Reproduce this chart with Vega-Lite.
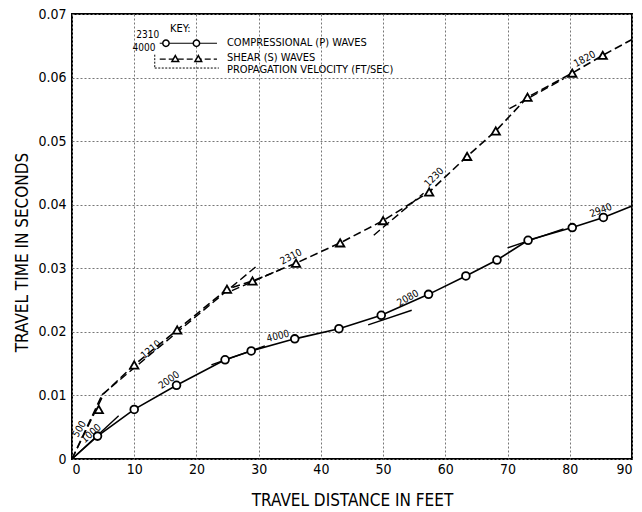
{
  "$schema": "https://vega.github.io/schema/vega-lite/v6.json",
  "width": 560,
  "height": 445,
  "autosize": {"type": "none"},
  "padding": {"left": 72, "top": 14, "right": 10, "bottom": 53},
  "background": "white",
  "config": {
    "font": "'DejaVu Sans Condensed', Roboto, sans-serif",
    "view": {"stroke": "black", "strokeWidth": 2},
    "axis": {
      "grid": true, "gridColor": "#777", "gridDash": [2, 2], "gridWidth": 1,
      "domain": false, "ticks": false,
      "labelFont": "'DejaVu Sans Condensed', Roboto, sans-serif", "labelFontSize": 14, "labelColor": "black",
      "titleFont": "'DejaVu Sans Condensed', Roboto, sans-serif", "titleFontSize": 17, "titleFontWeight": "normal", "titleColor": "black"
    },
    "text": {"font": "'DejaVu Sans Condensed', Roboto, sans-serif", "color": "black"}
  },
  "datasets": {
    "curve": [
      {"series": "P", "x": 0, "t": 0}, {"series": "P", "x": 4.1, "t": 0.0036}, {"series": "P", "x": 10, "t": 0.0078},
      {"series": "P", "x": 16.8, "t": 0.0116}, {"series": "P", "x": 24.6, "t": 0.0156}, {"series": "P", "x": 28.8, "t": 0.0170},
      {"series": "P", "x": 35.8, "t": 0.0189}, {"series": "P", "x": 42.9, "t": 0.0205}, {"series": "P", "x": 49.7, "t": 0.0226},
      {"series": "P", "x": 57.3, "t": 0.0259}, {"series": "P", "x": 63.3, "t": 0.0288}, {"series": "P", "x": 68.3, "t": 0.0313},
      {"series": "P", "x": 73.3, "t": 0.0344}, {"series": "P", "x": 80.4, "t": 0.0364}, {"series": "P", "x": 85.4, "t": 0.0380},
      {"series": "P", "x": 90, "t": 0.0398},
      {"series": "S", "x": 0, "t": 0}, {"series": "S", "x": 4.8, "t": 0.0100}, {"series": "S", "x": 10, "t": 0.0148},
      {"series": "S", "x": 16.9, "t": 0.0203}, {"series": "S", "x": 24.9, "t": 0.0267}, {"series": "S", "x": 29.0, "t": 0.0280},
      {"series": "S", "x": 36.0, "t": 0.0308}, {"series": "S", "x": 43.1, "t": 0.0340}, {"series": "S", "x": 50.0, "t": 0.0375},
      {"series": "S", "x": 57.4, "t": 0.0420}, {"series": "S", "x": 63.5, "t": 0.0476}, {"series": "S", "x": 68.1, "t": 0.0516},
      {"series": "S", "x": 73.2, "t": 0.0569}, {"series": "S", "x": 80.4, "t": 0.0607}, {"series": "S", "x": 85.3, "t": 0.0635},
      {"series": "S", "x": 90, "t": 0.0660}
    ],
    "obs": [
      {"series": "P", "x": 4.1, "t": 0.0036}, {"series": "P", "x": 10, "t": 0.0078}, {"series": "P", "x": 16.8, "t": 0.0116},
      {"series": "P", "x": 24.6, "t": 0.0156}, {"series": "P", "x": 28.8, "t": 0.0170}, {"series": "P", "x": 35.8, "t": 0.0189},
      {"series": "P", "x": 42.9, "t": 0.0205}, {"series": "P", "x": 49.7, "t": 0.0226}, {"series": "P", "x": 57.3, "t": 0.0259},
      {"series": "P", "x": 63.3, "t": 0.0288}, {"series": "P", "x": 68.3, "t": 0.0313}, {"series": "P", "x": 73.3, "t": 0.0344},
      {"series": "P", "x": 80.4, "t": 0.0364}, {"series": "P", "x": 85.4, "t": 0.0380},
      {"series": "S", "x": 4.3, "t": 0.0078}, {"series": "S", "x": 10, "t": 0.0148}, {"series": "S", "x": 16.9, "t": 0.0203},
      {"series": "S", "x": 24.9, "t": 0.0267}, {"series": "S", "x": 29.0, "t": 0.0280}, {"series": "S", "x": 36.0, "t": 0.0308},
      {"series": "S", "x": 43.1, "t": 0.0340}, {"series": "S", "x": 50.0, "t": 0.0375}, {"series": "S", "x": 57.4, "t": 0.0420},
      {"series": "S", "x": 63.5, "t": 0.0476}, {"series": "S", "x": 68.1, "t": 0.0516}, {"series": "S", "x": 73.2, "t": 0.0569},
      {"series": "S", "x": 80.4, "t": 0.0607}, {"series": "S", "x": 85.3, "t": 0.0635}
    ],
    "tangents": [
      {"series": "S", "v": "500", "x": 0, "t": 0, "x2": 5, "t2": 0.0100},
      {"series": "P", "v": "1000", "x": 0, "t": 0, "x2": 7.5, "t2": 0.0068},
      {"series": "S", "v": "1210", "x": 4.8, "t": 0.0101, "x2": 29.5, "t2": 0.0302},
      {"series": "S", "v": "2310", "x": 25.7, "t": 0.0265, "x2": 33.5, "t2": 0.0298},
      {"series": "P", "v": "4000", "x": 22.4, "t": 0.0148, "x2": 31, "t2": 0.0178},
      {"series": "P", "v": "2080", "x": 47.6, "t": 0.0211, "x2": 54.6, "t2": 0.0234},
      {"series": "S", "v": "1230", "x": 48.5, "t": 0.0352, "x2": 56.5, "t2": 0.0418},
      {"series": "S", "v": "1820", "x": 70.3, "t": 0.0551, "x2": 79, "t2": 0.0598},
      {"series": "P", "v": "2940", "x": 70, "t": 0.0332, "x2": 79, "t2": 0.0362}
    ],
    "labels": [
      {"v": "500", "x": 1.2, "t": 0.0047},
      {"v": "1000", "x": 3.1, "t": 0.0040},
      {"v": "2000", "x": 15.6, "t": 0.0124},
      {"v": "1210", "x": 12.7, "t": 0.0172},
      {"v": "2310", "x": 35.2, "t": 0.0318},
      {"v": "4000", "x": 33.1, "t": 0.0193},
      {"v": "2080", "x": 54.0, "t": 0.0253},
      {"v": "1230", "x": 58.2, "t": 0.0443},
      {"v": "1820", "x": 82.4, "t": 0.0629},
      {"v": "2940", "x": 85.0, "t": 0.0391}
    ],
    "keyLines": [
      {"series": "P", "x": 14.1, "t": 0.0654, "x2": 23.3, "t2": 0.0654},
      {"series": "S", "x": 14.1, "t": 0.0629, "x2": 23.3, "t2": 0.0629},
      {"series": "B", "x": 13.3, "t": 0.0636, "x2": 13.3, "t2": 0.0615},
      {"series": "B", "x": 13.3, "t": 0.0615, "x2": 23.6, "t2": 0.0615}
    ],
    "keyMarks": [
      {"series": "P", "x": 15.1, "t": 0.0654}, {"series": "P", "x": 20.0, "t": 0.0654},
      {"series": "S", "x": 16.6, "t": 0.0630}, {"series": "S", "x": 20.3, "t": 0.0630}
    ],
    "keyText": [
      {"label": "KEY:", "x": 15.75, "t": 0.0677},
      {"label": "COMPRESSIONAL (P) WAVES", "x": 24.9, "t": 0.0654},
      {"label": "SHEAR (S) WAVES", "x": 24.9, "t": 0.0631},
      {"label": "PROPAGATION VELOCITY (FT/SEC)", "x": 24.9, "t": 0.0612}
    ],
    "keyNums": [
      {"label": "2310", "x": 14.0, "t": 0.0659},
      {"label": "4000", "x": 13.4, "t": 0.0639}
    ]
  },
  "encoding": {
    "x": {"field": "x", "type": "quantitative", "scale": {"domain": [0, 90], "nice": false},
          "axis": {"values": [0, 10, 20, 30, 40, 50, 60, 70, 80, 90], "title": "TRAVEL DISTANCE IN FEET", "labelPadding": 3, "titlePadding": 16}},
    "y": {"field": "t", "type": "quantitative", "scale": {"domain": [0, 0.07], "nice": false},
          "axis": {"values": [0, 0.01, 0.02, 0.03, 0.04, 0.05, 0.06, 0.07], "labelExpr": "datum.value == 0 ? '0' : format(datum.value, '.2f')", "title": "TRAVEL TIME IN SECONDS", "labelPadding": 6, "titlePadding": 6, "titleY": 238}}
  },
  "layer": [
    {
      "data": {"name": "curve"},
      "transform": [{"filter": "datum.series == 'P'"}],
      "mark": {"type": "line", "interpolate": "linear", "color": "black", "strokeWidth": 1.6}
    },
    {
      "data": {"name": "curve"},
      "transform": [{"filter": "datum.series == 'S'"}],
      "mark": {"type": "line", "interpolate": "linear", "color": "black", "strokeWidth": 1.6, "strokeDash": [8, 4]}
    },
    {
      "data": {"name": "tangents"},
      "transform": [{"filter": "datum.series == 'P'"}],
      "mark": {"type": "rule", "color": "black", "strokeWidth": 1.4},
      "encoding": {"x2": {"field": "x2"}, "y2": {"field": "t2"}}
    },
    {
      "data": {"name": "tangents"},
      "transform": [{"filter": "datum.series == 'S'"}],
      "mark": {"type": "rule", "color": "black", "strokeWidth": 1.4, "strokeDash": [8, 4]},
      "encoding": {"x2": {"field": "x2"}, "y2": {"field": "t2"}}
    },
    {
      "data": {"name": "keyLines"},
      "transform": [{"filter": "datum.series == 'P'"}],
      "mark": {"type": "rule", "color": "black", "strokeWidth": 1.2},
      "encoding": {"x2": {"field": "x2"}, "y2": {"field": "t2"}}
    },
    {
      "data": {"name": "keyLines"},
      "transform": [{"filter": "datum.series == 'S'"}],
      "mark": {"type": "rule", "color": "black", "strokeWidth": 1.2, "strokeDash": [6, 3]},
      "encoding": {"x2": {"field": "x2"}, "y2": {"field": "t2"}}
    },
    {
      "data": {"name": "keyLines"},
      "transform": [{"filter": "datum.series == 'B'"}],
      "mark": {"type": "rule", "color": "black", "strokeWidth": 1, "strokeDash": [2, 1.5]},
      "encoding": {"x2": {"field": "x2"}, "y2": {"field": "t2"}}
    },
    {
      "data": {"name": "obs"},
      "transform": [{"filter": "datum.series == 'P'"}],
      "mark": {"type": "point", "shape": "circle", "filled": true, "fill": "white", "stroke": "black", "strokeWidth": 1.8, "size": 60, "opacity": 1}
    },
    {
      "data": {"name": "obs"},
      "transform": [{"filter": "datum.series == 'S'"}],
      "mark": {"type": "point", "shape": "triangle-up", "filled": true, "fill": "white", "stroke": "black", "strokeWidth": 1.8, "size": 70, "opacity": 1}
    },
    {
      "data": {"name": "keyMarks"},
      "transform": [{"filter": "datum.series == 'P'"}],
      "mark": {"type": "point", "shape": "circle", "filled": true, "fill": "white", "stroke": "black", "strokeWidth": 1.5, "size": 40, "opacity": 1}
    },
    {
      "data": {"name": "keyMarks"},
      "transform": [{"filter": "datum.series == 'S'"}],
      "mark": {"type": "point", "shape": "triangle-up", "filled": true, "fill": "white", "stroke": "black", "strokeWidth": 1.5, "size": 45, "opacity": 1}
    },
    {
      "data": {"name": "keyText"},
      "mark": {"type": "text", "align": "left", "baseline": "middle", "fontSize": 11},
      "encoding": {"text": {"field": "label"}}
    },
    {
      "data": {"name": "keyNums"},
      "mark": {"type": "text", "align": "right", "baseline": "bottom", "fontSize": 10},
      "encoding": {"text": {"field": "label"}}
    },
    {"data": {"name": "labels"}, "transform": [{"filter": "datum.v == '500'"}], "mark": {"type": "text", "angle": 300, "fontSize": 10, "baseline": "middle"}, "encoding": {"text": {"field": "v"}}},
    {"data": {"name": "labels"}, "transform": [{"filter": "datum.v == '1000'"}], "mark": {"type": "text", "angle": 318, "fontSize": 10, "baseline": "middle"}, "encoding": {"text": {"field": "v"}}},
    {"data": {"name": "labels"}, "transform": [{"filter": "datum.v == '2000'"}], "mark": {"type": "text", "angle": 325, "fontSize": 10, "baseline": "middle"}, "encoding": {"text": {"field": "v"}}},
    {"data": {"name": "labels"}, "transform": [{"filter": "datum.v == '1210'"}], "mark": {"type": "text", "angle": 320, "fontSize": 10, "baseline": "middle"}, "encoding": {"text": {"field": "v"}}},
    {"data": {"name": "labels"}, "transform": [{"filter": "datum.v == '2310'"}], "mark": {"type": "text", "angle": 333, "fontSize": 10, "baseline": "middle"}, "encoding": {"text": {"field": "v"}}},
    {"data": {"name": "labels"}, "transform": [{"filter": "datum.v == '4000'"}], "mark": {"type": "text", "angle": 346, "fontSize": 10, "baseline": "middle"}, "encoding": {"text": {"field": "v"}}},
    {"data": {"name": "labels"}, "transform": [{"filter": "datum.v == '2080'"}], "mark": {"type": "text", "angle": 330, "fontSize": 10, "baseline": "middle"}, "encoding": {"text": {"field": "v"}}},
    {"data": {"name": "labels"}, "transform": [{"filter": "datum.v == '1230'"}], "mark": {"type": "text", "angle": 315, "fontSize": 10, "baseline": "middle"}, "encoding": {"text": {"field": "v"}}},
    {"data": {"name": "labels"}, "transform": [{"filter": "datum.v == '1820'"}], "mark": {"type": "text", "angle": 332, "fontSize": 10, "baseline": "middle"}, "encoding": {"text": {"field": "v"}}},
    {"data": {"name": "labels"}, "transform": [{"filter": "datum.v == '2940'"}], "mark": {"type": "text", "angle": 340, "fontSize": 10, "baseline": "middle"}, "encoding": {"text": {"field": "v"}}}
  ]
}
